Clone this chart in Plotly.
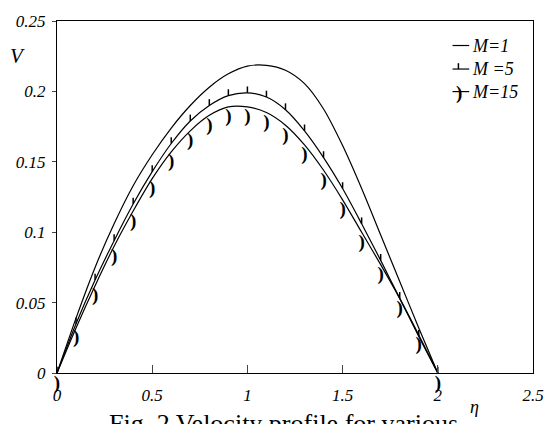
import plotly.graph_objects as go

# ---- data ----
eta = [0.0, 0.1, 0.2, 0.3, 0.4, 0.5, 0.6, 0.7, 0.8, 0.9, 1.0,
       1.1, 1.2, 1.3, 1.4, 1.5, 1.6, 1.7, 1.8, 1.9, 2.0]
v_m1 = [0.0, 0.039, 0.075, 0.106, 0.133, 0.155, 0.174, 0.190, 0.203, 0.2125, 0.218,
        0.2185, 0.215, 0.2055, 0.1875, 0.1615, 0.131, 0.098, 0.065, 0.032, 0.0]
v_m5 = [0.0, 0.035, 0.066, 0.094, 0.120, 0.143, 0.163, 0.179, 0.190, 0.197, 0.199,
        0.196, 0.187, 0.172, 0.153, 0.131, 0.106, 0.080, 0.053, 0.026, 0.0]
v_m15 = [0.0, 0.032, 0.062, 0.090, 0.115, 0.138, 0.157, 0.172, 0.183, 0.189, 0.189,
         0.185, 0.176, 0.162, 0.144, 0.123, 0.100, 0.077, 0.053, 0.027, 0.0]
legend_labels = ["<i>M=1</i>", "<i>M =5</i>", "<i>M=15</i>"]
x_ticks = [0, 0.5, 1, 1.5, 2, 2.5]
x_ticklabels = ["0", "0.5", "1", "1.5", "2", "2.5"]
y_ticks = [0, 0.05, 0.1, 0.15, 0.2, 0.25]
y_ticklabels = ["0", "0.05", "0.1", "0.15", "0.2", "0.25"]
caption = "Fig. 2 Velocity profile for various"

# ---- layout geometry ----
FW, FH = 556, 424
L, R, T, B = 57, 542, 14, 373
W, H = R - L, B - T
def px(x):
    return (x - L) / W
def py(y):
    return (B - y) / H

SERIF = "Liberation Serif"
LW = 1.2

fig = go.Figure()
fig.add_trace(go.Scatter(x=eta, y=v_m1, mode="lines",
                         line=dict(color="black", width=LW, shape="spline", smoothing=0.8),
                         showlegend=False))
fig.add_trace(go.Scatter(x=eta, y=v_m5, mode="lines",
                         line=dict(color="black", width=LW, shape="spline", smoothing=0.8),
                         showlegend=False,
                         error_y=dict(type="constant", value=0.0045, valueminus=0,
                                      symmetric=False, width=0, thickness=1.5,
                                      color="black")))
fig.add_trace(go.Scatter(x=eta, y=v_m15, mode="lines+markers+text",
                         marker=dict(size=0.4, opacity=0, color="black"),
                         text=[")"] * len(eta), textposition="bottom center",
                         textfont=dict(family=SERIF, size=19, color="black", weight="bold"),
                         line=dict(color="black", width=LW, shape="spline", smoothing=0.8),
                         showlegend=False, cliponaxis=False))

shapes = []
annotations = []
rows_y = [39, 63, 86]
for i, (lab, ry) in enumerate(zip(legend_labels, rows_y)):
    shapes.append(dict(type="line", xref="paper", yref="paper",
                       x0=px(460), x1=px(477), y0=py(ry), y1=py(ry),
                       line=dict(color="black", width=1.2)))
    annotations.append(dict(xref="paper", yref="paper", x=px(478), y=py(ry),
                            xanchor="left", yanchor="middle", showarrow=False,
                            text=lab, font=dict(family=SERIF, size=18, color="black")))
shapes.append(dict(type="line", xref="paper", yref="paper",
                   x0=px(466), x1=px(466), y0=py(rows_y[1]), y1=py(rows_y[1] - 6),
                   line=dict(color="black", width=1.5)))
annotations.append(dict(xref="paper", yref="paper", x=px(467), y=py(rows_y[2] + 1),
                        xanchor="center", yanchor="middle", showarrow=False, text=")",
                        font=dict(family=SERIF, size=19, color="black", weight="bold")))

annotations.append(dict(xref="paper", yref="paper", x=px(17), y=py(50),
                        xanchor="center", yanchor="middle", showarrow=False,
                        text="<i>V</i>", font=dict(family=SERIF, size=21, color="black")))
annotations.append(dict(xref="paper", yref="paper", x=px(482), y=py(408),
                        xanchor="center", yanchor="middle", showarrow=False,
                        text="<i>η</i>", font=dict(family=SERIF, size=18, color="black")))
annotations.append(dict(xref="paper", yref="paper", x=px(287.5), y=py(408),
                        xanchor="center", yanchor="top", showarrow=False,
                        text=caption, font=dict(family=SERIF, size=26, color="black")))

fig.update_layout(
    width=FW, height=FH,
    margin=dict(l=L, r=FW - R, t=T, b=FH - B, pad=0),
    paper_bgcolor="white", plot_bgcolor="white",
    shapes=shapes, annotations=annotations,
    showlegend=False,
    xaxis=dict(range=[0, 2.5], tickvals=x_ticks, ticktext=x_ticklabels,
               ticks="inside", ticklen=8, tickwidth=1, tickcolor="#444",
               showline=True, linecolor="black", linewidth=1.3, mirror=True,
               showgrid=False, zeroline=False, ticklabelstandoff=6,
               tickfont=dict(family=SERIF, size=17, color="black", style="italic")),
    yaxis=dict(range=[0, 0.25], tickvals=y_ticks, ticktext=y_ticklabels,
               ticks="outside", ticklen=4, tickwidth=1, tickcolor="#444",
               showline=True, linecolor="black", linewidth=1.3, mirror=True,
               showgrid=False, zeroline=False, ticklabelstandoff=3,
               tickfont=dict(family=SERIF, size=17, color="black", style="italic")),
)

fig.write_html("out.html")
